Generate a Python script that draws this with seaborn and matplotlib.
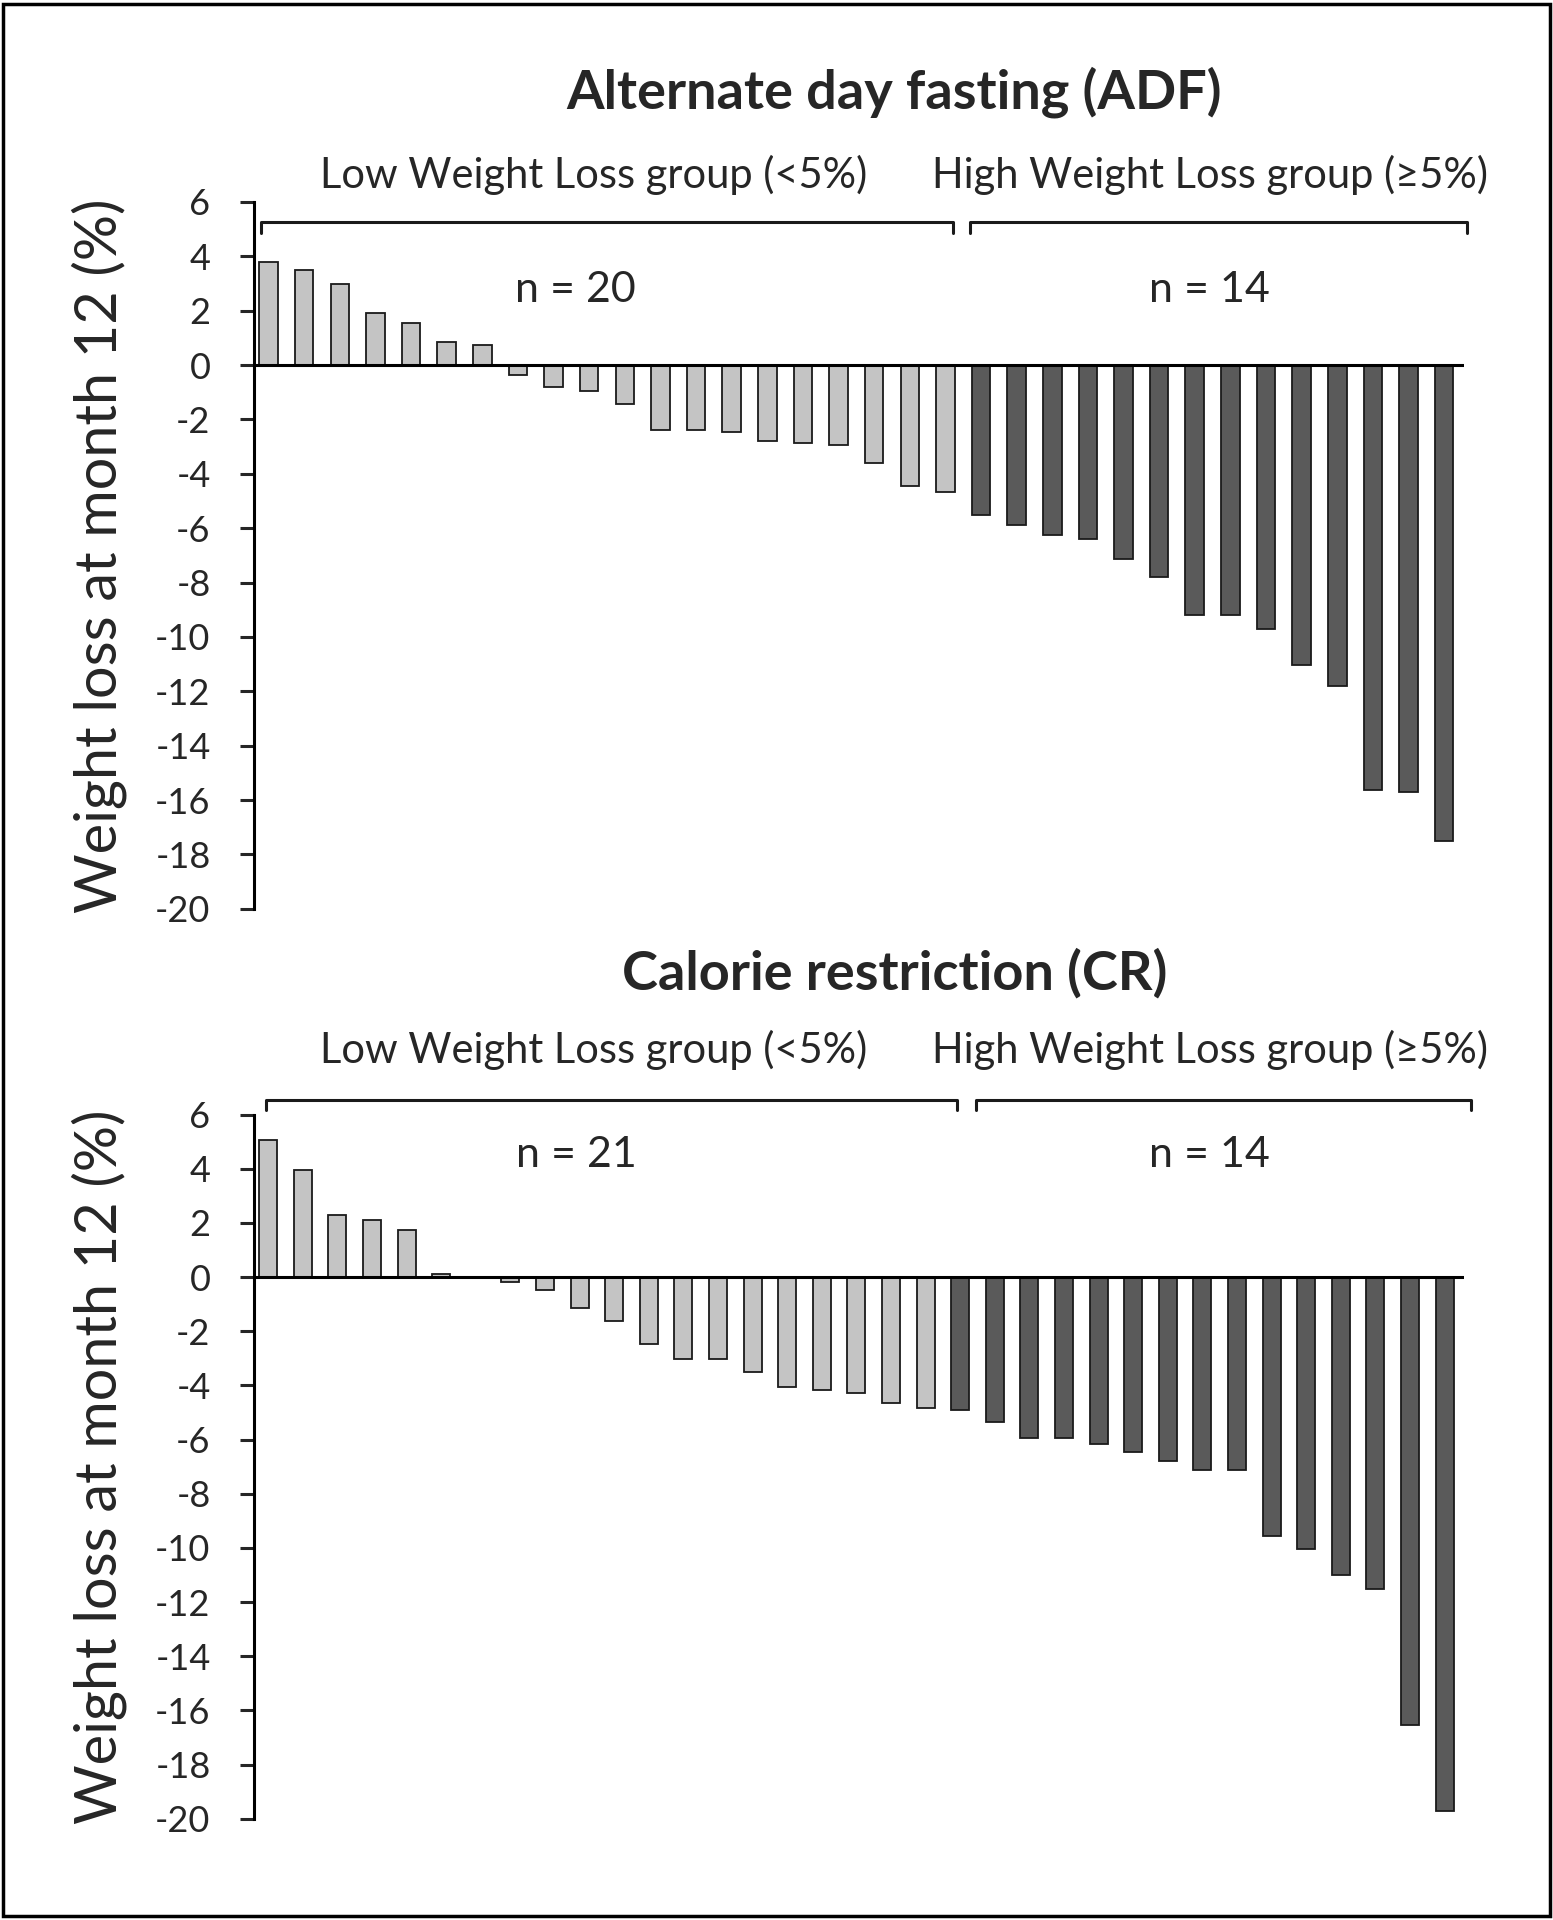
import numpy as np
import pandas as pd
import matplotlib
matplotlib.use('Agg')
import matplotlib.pyplot as plt
import seaborn as sns

sns.set_style('white')
plt.rcParams['font.family'] = ['Lato', 'DejaVu Sans']

# weight change at month 12 (%), one bar per participant, sorted
adf_low = [3.8, 3.5, 3.0, 1.9, 1.55, 0.85, 0.75, -0.35, -0.8, -0.97, -1.45,
           -2.4, -2.4, -2.47, -2.8, -2.85, -2.93, -3.62, -4.46, -4.66]
adf_high = [-5.5, -5.9, -6.25, -6.4, -7.15, -7.8, -9.2, -9.2, -9.7, -11.05,
            -11.8, -15.65, -15.7, -17.5]
cr_low = [5.07, 3.94, 2.28, 2.1, 1.73, 0.12, 0.0, -0.18, -0.48, -1.13, -1.62,
          -2.48, -3.02, -3.02, -3.5, -4.06, -4.18, -4.28, -4.64, -4.82, -4.9]
cr_high = [-5.35, -5.95, -5.95, -6.15, -6.45, -6.8, -7.12, -7.12, -9.55,
           -10.05, -11.0, -11.5, -16.55, -19.7]
# the last member of the CR low group is drawn in the dark shade in the original
cr_dark_from = 20

low_label = 'Low Weight Loss group (<5%)'
high_label = 'High Weight Loss group (\u22655%)'
yticks = list(range(-20, 7, 2))

LIGHT = '#c4c4c4'
DARK = '#5a5a5a'

fig = plt.figure(figsize=(15.53, 19.2), dpi=100)


def panel(rect, low, high, dark_from, title, title_y, n_pos, n_y, br_low, br_high, br_y, lab_y):
    ax = fig.add_axes(rect)
    vals = low + high
    df = pd.DataFrame({'idx': np.arange(len(vals)), 'val': vals})
    colors = [LIGHT if i < dark_from else DARK for i in range(len(vals))]
    sns.barplot(data=df, x='idx', y='val', hue='idx', palette=colors, legend=False,
                width=0.52, edgecolor='#1a1a1a', linewidth=1.3, ax=ax, zorder=2)
    n = len(vals)
    ax.set_xlim(-0.42, n - 0.45)
    ax.set_ylim(-20, 6)
    ax.set_yticks(yticks)
    ax.set_yticklabels([str(t) for t in yticks])
    ax.set_xticks([])
    ax.set_xlabel('')
    ax.set_ylabel('Weight loss at month 12 (%)', fontsize=41.5, labelpad=20)
    ax.axhline(0, color='black', lw=2.2, zorder=3)
    for s in ['top', 'right', 'bottom']:
        ax.spines[s].set_visible(False)
    ax.spines['left'].set_linewidth(2.2)
    ax.spines['left'].set_color('black')
    ax.tick_params(axis='y', direction='out', length=10, width=2.2, labelsize=26,
                   left=True, pad=21)
    # group brackets
    hook = 0.4
    for (x0, x1) in (br_low, br_high):
        ax.plot([x0, x0, x1, x1], [br_y - hook, br_y, br_y, br_y - hook],
                color='#1a1a1a', lw=2.2, clip_on=False)
    ax.text(n_pos[0], n_y, f'n = {len(low)}', fontsize=31, ha='center', va='center')
    ax.text(n_pos[1], n_y, f'n = {len(high)}', fontsize=31, ha='center', va='center')
    fig.text(0.382, lab_y, low_label, fontsize=30, ha='center', va='center')
    fig.text(0.779, lab_y, high_label, fontsize=30, ha='center', va='center')
    fig.text(0.576, title_y, title, fontsize=39, fontweight='bold', ha='center', va='center')
    return ax


panel([0.1633, 0.5267, 0.7792, 0.3681], adf_low, adf_high, len(adf_low),
      'Alternate day fasting (ADF)', 0.952, (8.6, 26.4), 2.75,
      (-0.2, 19.2), (19.7, 33.65), 5.25, 0.909)
panel([0.1633, 0.0527, 0.7792, 0.3668], cr_low, cr_high, cr_dark_from,
      'Calorie restriction (CR)', 0.493, (8.9, 27.2), 4.5,
      (-0.07, 19.9), (20.45, 34.75), 6.55, 0.453)

# outer frame
fig.patches.append(plt.Rectangle((0.002, 0.002), 0.996, 0.996, transform=fig.transFigure,
                                 fill=False, edgecolor='black', lw=2.5))

fig.savefig('out.png', dpi=100)
